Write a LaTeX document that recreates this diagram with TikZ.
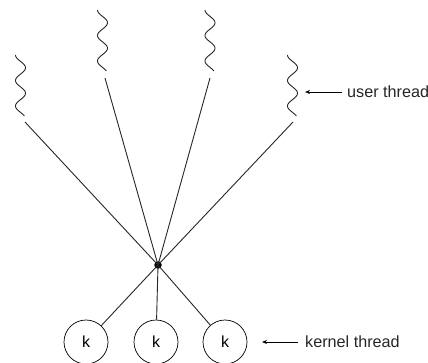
\documentclass[tikz,border=0pt]{standalone}
\usepackage{fontspec}
\setmainfont{Liberation Sans}
\usetikzlibrary{arrows.meta}
\begin{document}
\begin{tikzpicture}[x=1pt,y=-1pt,
  wire/.style={line width=0.9pt,black!85},
  wavy/.style={line width=0.9pt,black!85,line join=round},
  kthread/.style={circle,draw,line width=0.7pt,minimum size=44pt,inner sep=0pt,font=\fontsize{16}{19}\selectfont},
  junction/.style={circle,fill=black,inner sep=0pt,minimum size=7.5pt},
  label/.style={anchor=west,inner sep=0pt,text=black!85,font=\fontsize{16.2}{19}\selectfont},
  pointer/.style={line width=0.8pt,-{Stealth[length=5pt,width=4pt]}}]
\useasboundingbox (0,0) rectangle (428,363);

% user threads: wavy strands (period 25.5pt -> 14.1176 degrees per pt)
\foreach \cx/\ytop in {20.5/55, 102.5/10, 210/10, 292.5/55}{
  \draw[wavy] plot[domain=0:61,samples=90,smooth] ({\cx-5*cos(\x*14.1176)},{\ytop+\x});
}
% lower ends of the user-thread links
\coordinate (u1) at (25,122);
\coordinate (u2) at (105,78);
\coordinate (u3) at (210,78);
\coordinate (u4) at (293,122);

% mapping junction
\node[junction] (m) at (158,265) {};

% kernel threads
\node[kthread] (k1) at (86,342) {k};
\node[kthread] (k2) at (156,342) {k};
\node[kthread] (k3) at (225,342) {k};

% connections
\foreach \u in {u1,u2,u3,u4}{ \draw[wire] (\u) -- (m.center); }
\foreach \k in {k1,k2,k3}{ \draw[wire] (m.center) -- (\k); }

% labels
\node[label] (ul) at (347,92) {user thread};
\coordinate (uh) at (305,92);
\draw[pointer] (ul.west) ++(-5,0) -- (uh);

\node[label] (kl) at (305,342) {kernel thread};
\coordinate (kh) at (262,342);
\draw[pointer] (kl.west) ++(-7,0) -- (kh);
\end{tikzpicture}
\end{document}
